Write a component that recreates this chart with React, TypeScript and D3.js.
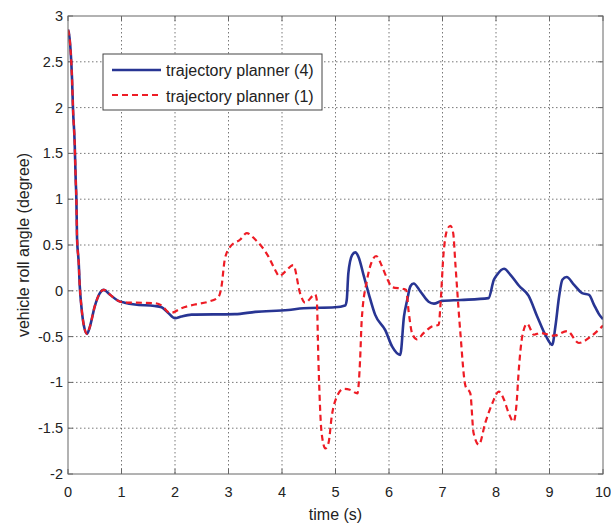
import React from "react";
import * as d3 from "d3";

const xTicks = [0, 1, 2, 3, 4, 5, 6, 7, 8, 9, 10];
const yTicks = [-2, -1.5, -1, -0.5, 0, 0.5, 1, 1.5, 2, 2.5, 3];
const seriesNames = ["trajectory planner (4)", "trajectory planner (1)"];

const commonT = [0, 0.02, 0.05, 0.075, 0.094, 0.125, 0.144, 0.157, 0.169, 0.2, 0.22, 0.25, 0.3, 0.356, 0.41, 0.5, 0.59, 0.67, 0.78, 0.94, 1.06];
const commonV = [2.85, 2.8, 2.61, 2.32, 1.98, 1.61, 1.21, 0.99, 0.575, 0.31, 0.05, -0.17, -0.39, -0.47, -0.39, -0.17, -0.03, 0.01, -0.04, -0.11, -0.13];

const blueT = [1.25, 1.62, 1.75, 1.87, 2.0, 2.12, 2.31, 3.12, 3.5, 4.12, 4.4, 4.99, 5.18, 5.21, 5.24, 5.31, 5.37, 5.43, 5.53, 5.62, 5.74, 5.93, 6.06, 6.21, 6.28, 6.34, 6.4, 6.46, 6.59, 6.74, 6.84, 6.99, 7.34, 7.86, 7.96, 8.02, 8.15, 8.27, 8.43, 8.61, 8.77, 8.93, 9.05, 9.11, 9.18, 9.24, 9.32, 9.46, 9.61, 9.74, 9.83, 9.93, 10];
const blueV = [-0.15, -0.165, -0.18, -0.24, -0.3, -0.28, -0.26, -0.255, -0.23, -0.21, -0.19, -0.18, -0.16, -0.1, 0.19, 0.39, 0.42, 0.37, 0.16, -0.03, -0.26, -0.43, -0.61, -0.7, -0.28, -0.1, 0.05, 0.08, -0.01, -0.12, -0.14, -0.11, -0.1, -0.08, 0.12, 0.175, 0.24, 0.175, 0.055, -0.055, -0.28, -0.49, -0.59, -0.39, -0.06, 0.12, 0.15, 0.065, -0.025, -0.045, -0.15, -0.26, -0.31];

const redT = [1.25, 1.62, 1.75, 1.9, 1.93, 2.12, 2.37, 2.62, 2.81, 2.87, 2.93, 3.03, 3.22, 3.34, 3.5, 3.75, 3.87, 3.95, 4.06, 4.21, 4.34, 4.43, 4.62, 4.65, 4.68, 4.74, 4.81, 4.87, 4.93, 5.03, 5.15, 5.27, 5.41, 5.46, 5.49, 5.59, 5.68, 5.76, 5.86, 5.96, 6.06, 6.27, 6.32, 6.37, 6.43, 6.52, 6.65, 6.8, 6.93, 6.96, 7.02, 7.09, 7.15, 7.2, 7.24, 7.33, 7.43, 7.52, 7.58, 7.68, 7.8, 7.93, 8.05, 8.15, 8.24, 8.33, 8.38, 8.43, 8.49, 8.58, 8.71, 8.83, 9.08, 9.33, 9.55, 9.77, 10];
const redV = [-0.13, -0.135, -0.16, -0.24, -0.24, -0.19, -0.15, -0.12, -0.07, 0.05, 0.34, 0.48, 0.56, 0.63, 0.56, 0.37, 0.23, 0.16, 0.21, 0.28, -0.03, -0.13, -0.04, -0.1, -0.75, -1.55, -1.72, -1.66, -1.37, -1.15, -1.07, -1.08, -1.12, -0.75, -0.32, 0.12, 0.32, 0.38, 0.28, 0.14, 0.04, 0.02, 0.01, -0.24, -0.46, -0.53, -0.46, -0.39, -0.37, -0.17, 0.41, 0.67, 0.71, 0.63, 0.3, -0.43, -1.04, -1.12, -1.55, -1.68, -1.44, -1.23, -1.1, -1.19, -1.34, -1.43, -1.26, -0.83, -0.5, -0.36, -0.48, -0.46, -0.49, -0.44, -0.57, -0.5, -0.38];

const W = 611;
const H = 528;
const M = { left: 68, right: 603, top: 16, bottom: 474 };

export default function App() {
  const x = d3.scaleLinear().domain([0, 10]).range([M.left, M.right]);
  const y = d3.scaleLinear().domain([-2, 3]).range([M.bottom, M.top]);
  const line = d3
    .line<[number, number]>()
    .x((d) => x(d[0]))
    .y((d) => y(d[1]))
    .curve(d3.curveMonotoneX);

  const common: [number, number][] = commonT.map((t, i) => [t, commonV[i]]);
  const blue: [number, number][] = common.concat(blueT.map((t, i) => [t, blueV[i]] as [number, number]));
  const red: [number, number][] = common.concat(redT.map((t, i) => [t, redV[i]] as [number, number]));

  const font = "'Liberation Sans', Arial, Helvetica, sans-serif";
  const blueC = "#283593";
  const redC = "#ee1c25";

  return (
    <svg
      width={W}
      height={H}
      style={{ position: "absolute", left: 0, top: 0, background: "#fff" }}
      fontFamily={font}
    >
      <defs>
        <clipPath id="plot">
          <rect x={M.left} y={M.top - 2} width={M.right - M.left} height={M.bottom - M.top + 4} />
        </clipPath>
      </defs>
      <rect x={0} y={0} width={W} height={H} fill="#fff" />
      {/* grid */}
      {xTicks.map((t) =>
        t > 0 && t < 10 ? (
          <line key={"gx" + t} x1={x(t)} x2={x(t)} y1={M.top} y2={M.bottom} stroke="#555" strokeWidth={0.8} strokeDasharray="1.5,2.5" />
        ) : null
      )}
      {yTicks.map((t) =>
        t > -2 && t < 3 ? (
          <line key={"gy" + t} x1={M.left} x2={M.right} y1={y(t)} y2={y(t)} stroke="#555" strokeWidth={0.8} strokeDasharray="1.5,2.5" />
        ) : null
      )}
      {/* tick marks */}
      {xTicks.map((t) => (
        <g key={"tx" + t}>
          <line x1={x(t)} x2={x(t)} y1={M.bottom} y2={M.bottom - 5} stroke="#666" />
          <line x1={x(t)} x2={x(t)} y1={M.top} y2={M.top + 5} stroke="#666" />
          <text x={x(t)} y={M.bottom + 23} textAnchor="middle" fontSize={14.5} fill="#222">
            {t}
          </text>
        </g>
      ))}
      {yTicks.map((t) => (
        <g key={"ty" + t}>
          <line x1={M.left} x2={M.left + 5} y1={y(t)} y2={y(t)} stroke="#666" />
          <line x1={M.right} x2={M.right - 5} y1={y(t)} y2={y(t)} stroke="#666" />
          <text x={M.left - 5} y={y(t) + 5} textAnchor="end" fontSize={14.5} fill="#222">
            {t}
          </text>
        </g>
      ))}
      {/* curves */}
      <g clipPath="url(#plot)">
        <path d={line(blue) || ""} fill="none" stroke={blueC} strokeWidth={2.6} strokeLinejoin="round" />
        <path d={line(red) || ""} fill="none" stroke={redC} strokeWidth={2.2} strokeDasharray="6,4" />
      </g>
      {/* frame */}
      <rect x={M.left} y={M.top} width={M.right - M.left} height={M.bottom - M.top} fill="none" stroke="#666" strokeWidth={1} />
      {/* legend */}
      <g>
        <rect x={103} y={54} width={219} height={56} fill="#fff" stroke="#444" strokeWidth={1} />
        <line x1={112} x2={161} y1={70} y2={70} stroke={blueC} strokeWidth={2.6} />
        <text x={166} y={76} fontSize={16} fill="#222">{seriesNames[0]}</text>
        <line x1={112} x2={161} y1={95} y2={95} stroke={redC} strokeWidth={2.2} strokeDasharray="6,4" />
        <text x={166} y={102} fontSize={16} fill="#222">{seriesNames[1]}</text>
      </g>
      {/* axis labels */}
      <text x={(M.left + M.right) / 2} y={520} textAnchor="middle" fontSize={16} fill="#222">
        time (s)
      </text>
      <text transform={`translate(29,${(M.top + M.bottom) / 2}) rotate(-90)`} textAnchor="middle" fontSize={16} fill="#222">
        vehicle roll angle (degree)
      </text>
    </svg>
  );
}
